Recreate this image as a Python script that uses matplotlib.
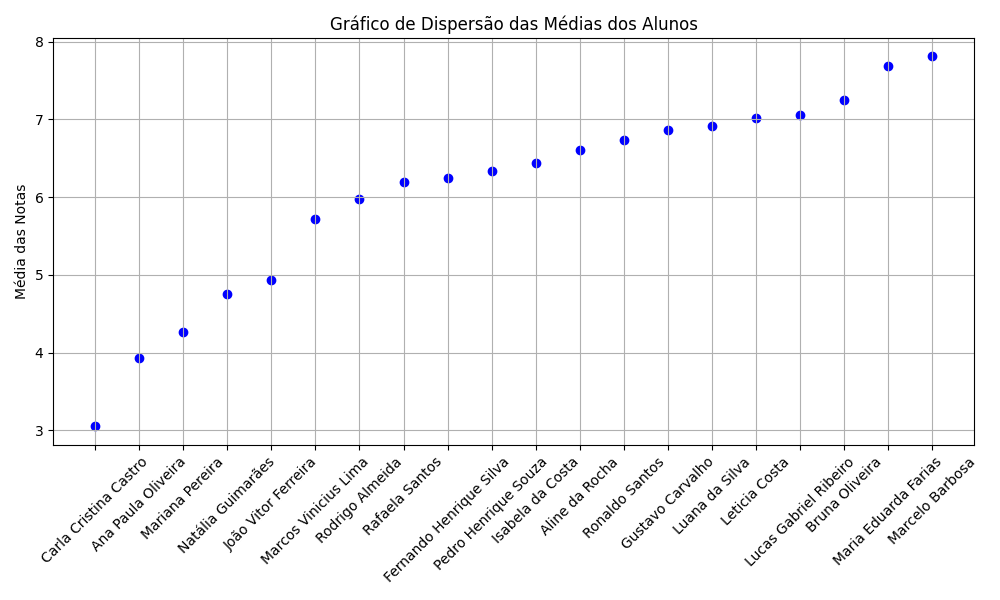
import matplotlib
matplotlib.use("Agg")
import matplotlib.pyplot as plt

alunos = [
    "Carla Cristina Castro", "Ana Paula Oliveira", "Mariana Pereira",
    "Natália Guimarães", "João Vitor Ferreira", "Marcos Vinicius Lima",
    "Rodrigo Almeida", "Rafaela Santos", "Fernando Henrique Silva",
    "Pedro Henrique Souza", "Isabela da Costa", "Aline da Rocha",
    "Ronaldo Santos", "Gustavo Carvalho", "Luana da Silva",
    "Leticia Costa", "Lucas Gabriel Ribeiro", "Bruna Oliveira",
    "Maria Eduarda Farias", "Marcelo Barbosa",
]
medias = [3.05, 3.93, 4.27, 4.75, 4.93, 5.72, 5.97, 6.20, 6.25, 6.33,
          6.44, 6.60, 6.73, 6.86, 6.92, 7.02, 7.05, 7.25, 7.68, 7.81]

plt.figure(figsize=(10, 6))
plt.scatter(alunos, medias, color="blue")
plt.title("Gráfico de Dispersão das Médias dos Alunos")
plt.ylabel("Média das Notas")
plt.xticks(rotation=45)
plt.grid(True)
plt.tight_layout()
plt.savefig("out.png", dpi=100)
